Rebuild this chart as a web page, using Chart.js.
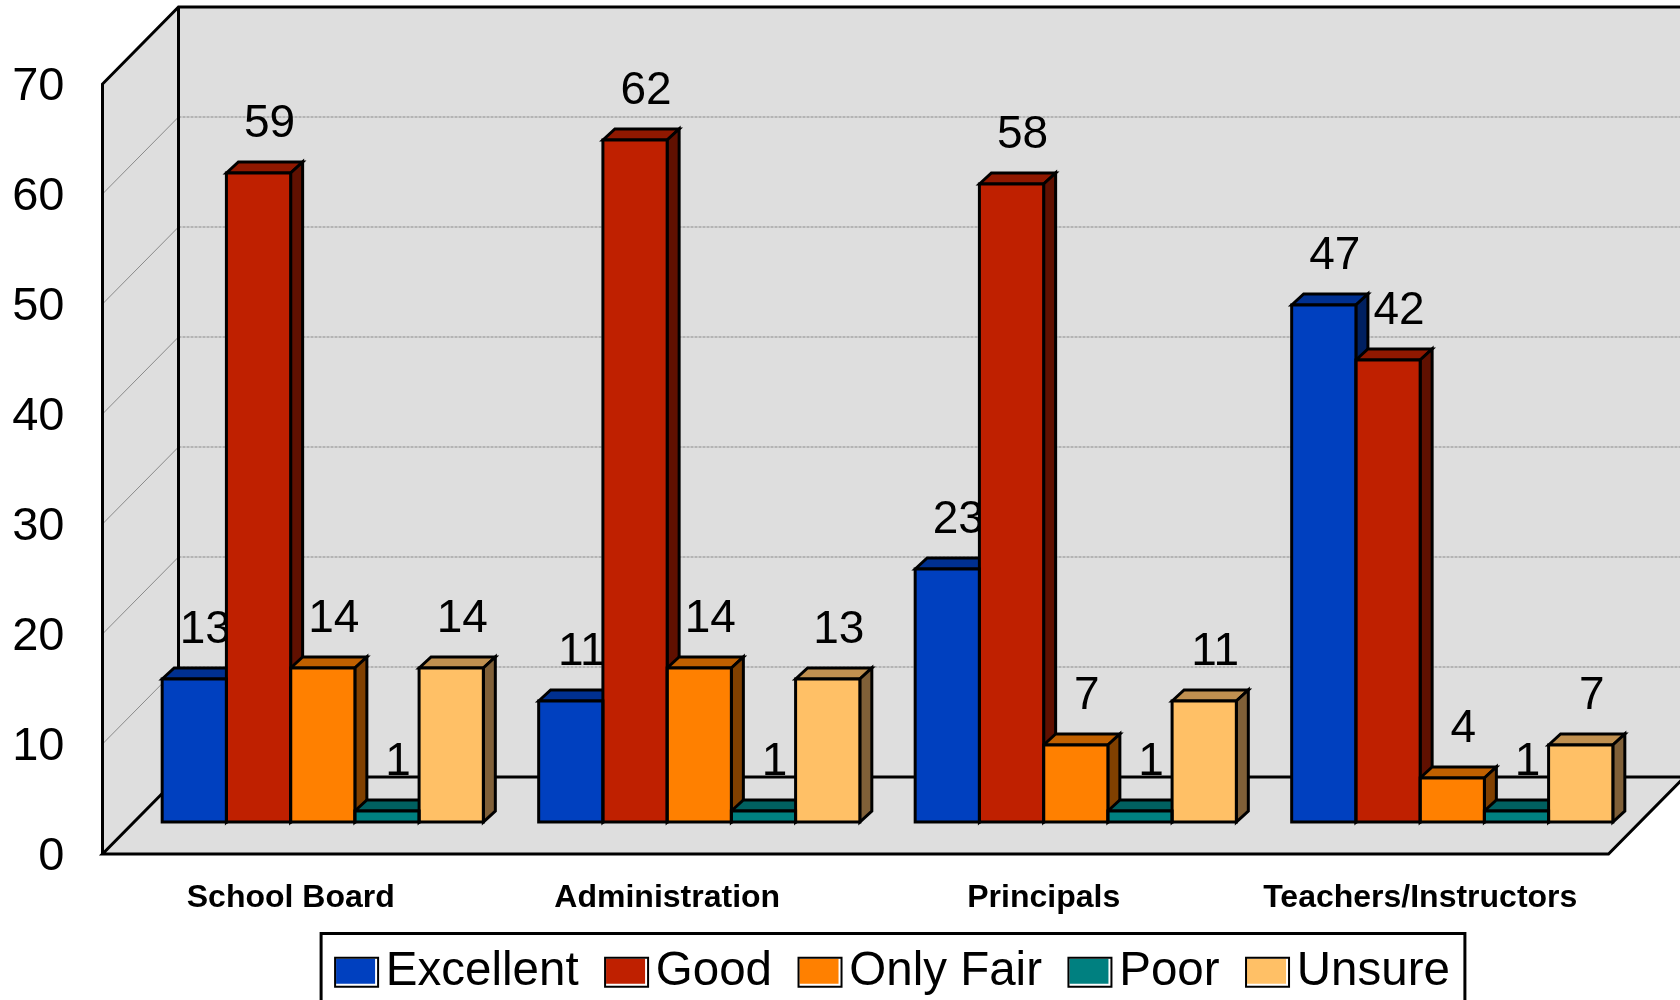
<!DOCTYPE html>
<html>
<head>
<meta charset="utf-8">
<title>Ratings</title>
<script src="https://cdn.jsdelivr.net/npm/chart.js@4"></script>
<style>
  html, body { margin: 0; padding: 0; background: #fff; width: 1680px; height: 1000px; overflow: hidden; }
  canvas { display: block; }
</style>
</head>
<body>
<canvas id="ratingsChart" width="1680" height="1006"></canvas>
<script>
const categories = ['School Board', 'Administration', 'Principals', 'Teachers/Instructors'];
const seriesNames = ['Excellent', 'Good', 'Only Fair', 'Poor', 'Unsure'];
const excellent = [13, 11, 23, 47];
const good = [59, 62, 58, 42];
const onlyFair = [14, 14, 7, 4];
const poor = [1, 1, 1, 1];
const unsure = [14, 13, 11, 7];
const seriesValues = [excellent, good, onlyFair, poor, unsure];
const tickValues = [0, 10, 20, 30, 40, 50, 60, 70];

const frontColors = ['#0040BF', '#BF2000', '#FF8000', '#008080', '#FFC066'];
const topColors = ['#003090', '#901800', '#C06000', '#006060', '#C09050'];
const sideColors = ['#002060', '#601000', '#804000', '#004040', '#806038'];

const FONT = '"Liberation Sans", Arial, sans-serif';
const WALL_DX = 76, WALL_DY = 77;   // depth of the chart box
const BAR_DX = 12, BAR_DY = 11;     // depth of one bar
const FRONT_DX = 32;                // bars stand this far back from the front edge
const LINE = 3;

const box3d = {
  id: 'box3d',
  afterLayout(chart) {
    // legend is a little right of the middle of the plot
    chart.legend.left += 5;
    chart.legend.right += 5;
  },
  beforeDraw(chart) {
    const ctx = chart.ctx, yf = chart.scales.yFront, area = chart.chartArea;
    const x0 = area.left - FRONT_DX, x1 = area.right - FRONT_DX;
    const y0 = yf.getPixelForValue(0), yTop = yf.getPixelForValue(70);
    const bx0 = x0 + WALL_DX, bx1 = x1 + WALL_DX, by0 = y0 - WALL_DY, byTop = yTop - WALL_DY;

    ctx.save();
    ctx.lineJoin = 'miter';
    ctx.fillStyle = '#DEDEDE';
    ctx.fillRect(bx0, byTop, bx1 - bx0, by0 - byTop);

    // left wall
    ctx.beginPath();
    ctx.moveTo(x0, yTop); ctx.lineTo(bx0, byTop); ctx.lineTo(bx0, by0); ctx.lineTo(x0, y0);
    ctx.closePath();
    ctx.fill();

    // floor
    ctx.beginPath();
    ctx.moveTo(x0, y0); ctx.lineTo(bx0, by0); ctx.lineTo(bx1, by0); ctx.lineTo(x1, y0);
    ctx.closePath();
    ctx.fill();

    // grid lines
    tickValues.slice(1, -1).forEach(v => {
      const p = yf.getPixelForValue(v);
      ctx.strokeStyle = '#8A8A8A';
      ctx.lineWidth = 1;
      ctx.setLineDash([]);
      ctx.beginPath(); ctx.moveTo(x0, p); ctx.lineTo(bx0, p - WALL_DY); ctx.stroke();
      ctx.setLineDash([3, 1]);
      ctx.beginPath(); ctx.moveTo(bx0, p - WALL_DY); ctx.lineTo(bx1, p - WALL_DY); ctx.stroke();
    });
    ctx.setLineDash([]);

    // box outline
    ctx.strokeStyle = '#000';
    ctx.lineWidth = LINE;
    ctx.beginPath();
    ctx.moveTo(x0, y0); ctx.lineTo(x0, yTop); ctx.lineTo(bx0, byTop); ctx.lineTo(bx1, byTop);
    ctx.moveTo(bx0, byTop); ctx.lineTo(bx0, by0); ctx.lineTo(bx1, by0);
    ctx.moveTo(bx0, by0); ctx.lineTo(x0, y0); ctx.lineTo(x1, y0); ctx.lineTo(bx1, by0);
    ctx.stroke();
    ctx.restore();
  },
  beforeDatasetsDraw(chart) {
    const ctx = chart.ctx;
    ctx.save();
    ctx.strokeStyle = '#000';
    ctx.lineWidth = LINE;
    ctx.lineJoin = 'miter';
    chart.data.datasets.forEach((ds, i) => {
      chart.getDatasetMeta(i).data.forEach(bar => {
        const l = bar.x - bar.width / 2, r = bar.x + bar.width / 2;
        // top
        ctx.fillStyle = topColors[i];
        ctx.beginPath();
        ctx.moveTo(l, bar.y); ctx.lineTo(l + BAR_DX, bar.y - BAR_DY);
        ctx.lineTo(r + BAR_DX, bar.y - BAR_DY); ctx.lineTo(r, bar.y);
        ctx.closePath(); ctx.fill(); ctx.stroke();
        // side
        ctx.fillStyle = sideColors[i];
        ctx.beginPath();
        ctx.moveTo(r, bar.y); ctx.lineTo(r + BAR_DX, bar.y - BAR_DY);
        ctx.lineTo(r + BAR_DX, bar.base - BAR_DY); ctx.lineTo(r, bar.base);
        ctx.closePath(); ctx.fill(); ctx.stroke();
      });
    });
    // value labels sit behind the bar fronts, the next bar cuts them off
    ctx.fillStyle = '#000';
    ctx.font = '46px ' + FONT;
    ctx.textAlign = 'center';
    ctx.textBaseline = 'middle';
    chart.data.datasets.forEach((ds, i) => {
      chart.getDatasetMeta(i).data.forEach((bar, j) => {
        ctx.fillText(ds.data[j], bar.x + BAR_DX - 1, bar.y - 49);
      });
    });
    ctx.restore();
  },
  afterDatasetsDraw(chart) {
    // outlines go on afterwards so neighbouring bars share one line
    const ctx = chart.ctx;
    ctx.save();
    ctx.strokeStyle = '#000';
    ctx.lineWidth = LINE;
    chart.data.datasets.forEach((ds, i) => {
      chart.getDatasetMeta(i).data.forEach(bar => {
        ctx.strokeRect(bar.x - bar.width / 2, bar.y, bar.width, bar.base - bar.y);
      });
    });
    ctx.restore();
  },
  afterDraw(chart) {
    const ctx = chart.ctx, boxes = chart.legend.legendHitBoxes;
    ctx.save();
    // legend frame, runs off the bottom of the page
    const first = boxes[0], last = boxes[boxes.length - 1];
    ctx.strokeStyle = '#000';
    ctx.lineWidth = LINE;
    ctx.strokeRect(first.left - 14, first.top - 15, last.left + last.width + 15 - first.left + 14, 200);
    // swatches
    boxes.forEach((b, i) => {
      const y = b.top + (b.height - 29) / 2;
      ctx.fillStyle = '#fff';
      ctx.fillRect(b.left, y, 43, 29);
      ctx.fillStyle = frontColors[i];
      ctx.fillRect(b.left + 1, y + 1, 39, 25);
      ctx.strokeStyle = '#000';
      ctx.lineWidth = 2;
      ctx.strokeRect(b.left, y, 43, 29);
    });
    ctx.restore();
  }
};

const ctx = document.getElementById('ratingsChart').getContext('2d');
const ratingsChart = new Chart(ctx, {
  type: 'bar',
  data: {
    labels: categories,
    datasets: seriesNames.map((name, i) => ({
      label: name,
      data: seriesValues[i],
      yAxisID: 'yBars',
      backgroundColor: frontColors[i],
      borderWidth: 0,
      categoryPercentage: 0.853,
      barPercentage: 1,
      clip: false
    }))
  },
  options: {
    responsive: false,
    animation: false,
    layout: { padding: { top: 84, right: 39.5, left: 0, bottom: 0 } },
    scales: {
      x: {
        grid: { display: false },
        border: { display: false },
        afterFit(scale) { scale.height = 68; },
        ticks: {
          color: '#000',
          padding: 17,
          labelOffset: -32,
          maxRotation: 0,
          autoSkip: false,
          font: { family: FONT, size: 32, weight: 'bold' }
        }
      },
      yFront: {
        position: 'left',
        min: 0,
        max: 70,
        grid: { display: false },
        border: { display: false },
        afterFit(scale) {
          scale.width = 134.5;
          scale.paddingTop = 0;
          scale.paddingBottom = 0;
        },
        ticks: {
          color: '#000',
          stepSize: 10,
          padding: 62,
          labelOffset: 3.5,
          font: { family: FONT, size: 47 }
        }
      },
      // same pixel size as yFront, but with 0 on the plane the bars stand on
      yBars: {
        display: false,
        min: -2.91,
        max: 67.09
      }
    },
    plugins: {
      tooltip: { enabled: false },
      legend: {
        position: 'bottom',
        fullSize: false,
        labels: {
          color: '#000',
          boxWidth: 27,
          boxHeight: 27,
          padding: 26.5,
          font: { family: FONT, size: 47.5 }
        }
      }
    }
  },
  plugins: [box3d]
});
</script>
</body>
</html>
